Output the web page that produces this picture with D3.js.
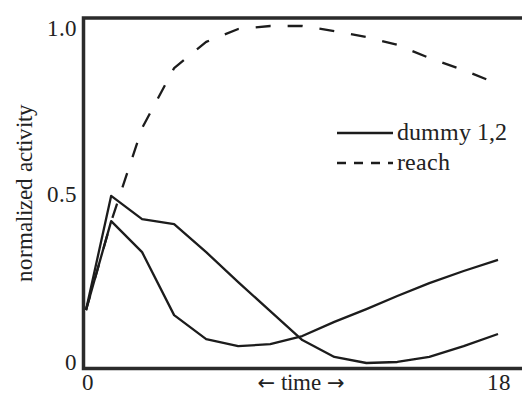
<!DOCTYPE html>
<html>
<head>
<meta charset="utf-8">
<script src="https://cdn.jsdelivr.net/npm/d3@7"></script>
<style>
  @font-face {
    font-family: "ChartSerif";
    src: local("Liberation Serif"), local("LiberationSerif"), local("LiberationSerif-Regular");
  }
  body { margin: 0; background: #fff; }
</style>
</head>
<body>
<div id="graph"></div>
<script>
// sample times
var times = [0, 1.1, 2.45, 3.85, 5.25, 6.65, 8.05, 9.45, 10.85, 12.25, 13.6, 15.0, 16.5, 18];

var dummy1 = [0.157, 0.496, 0.427, 0.412, 0.329, 0.240, 0.154, 0.068, 0.018, 0.0, 0.003, 0.018, 0.05, 0.086];
var dummy2 = [0.157, 0.421, 0.329, 0.142, 0.071, 0.05, 0.056, 0.08, 0.122, 0.16, 0.199, 0.237, 0.273, 0.306];
var reach  = [0.157, 0.42, 0.697, 0.875, 0.953, 0.991, 1.0, 1.0, 0.985, 0.967, 0.944, 0.905, 0.869, 0.828];

var yTicks = [0, 0.5, 1];
var yTickLabels = ["0", "0.5", "1.0"];
var xTicks = [0, 18];

var svg = d3.select("#graph")
  .append("svg")
  .attr("width", 522)
  .attr("height", 394);

var x = d3.scaleLinear().domain([0, 18]).range([86, 498]);
var y = d3.scaleLinear().domain([0, 1]).range([363, 26]);

function serif(sel, size) {
  sel.attr("font-family", "Liberation Serif")
    .style("font-family", "ChartSerif, 'Liberation Serif', serif")
    .attr("font-size", size)
    .attr("fill", "#222");
}

// y tick labels
yTicks.forEach(function(d, i) {
  svg.append("text")
    .call(serif, 23)
    .attr("x", 77)
    .attr("y", y(d) + (i == 2 ? 10 : 7))
    .attr("text-anchor", "end")
    .text(yTickLabels[i]);
});

// x tick labels
xTicks.forEach(function(d) {
  svg.append("text")
    .call(serif, 23)
    .attr("x", x(d) + (d == 0 ? 2 : 1))
    .attr("y", 390)
    .attr("text-anchor", "middle")
    .text(d);
});

var xLabel = svg.append("text")
  .call(serif, 23)
  .attr("x", 301)
  .attr("y", 390)
  .attr("text-anchor", "middle");
xLabel.append("tspan").attr("font-family", "DejaVu Sans").style("font-family", "'DejaVu Sans'").attr("font-size", 21).text("\u2190");
xLabel.append("tspan").text(" time ");
xLabel.append("tspan").attr("font-family", "DejaVu Sans").style("font-family", "'DejaVu Sans'").attr("font-size", 21).text("\u2192");

svg.append("text")
  .call(serif, 23)
  .attr("transform", "translate(32, 193) rotate(-90)")
  .attr("text-anchor", "middle")
  .text("normalized activity");

// legend
var legendItems = [{name: "dummy 1,2", dash: null, y: 133}, {name: "reach", dash: "9,8", y: 163}];

legendItems.forEach(function(item) {
  svg.append("text")
    .call(serif, 24)
    .attr("x", 397)
    .attr("y", item.y + 7)
    .text(item.name);
  svg.append("line")
    .attr("x1", 337).attr("x2", 393)
    .attr("y1", item.y).attr("y2", item.y)
    .attr("stroke", "#1c1c1c")
    .attr("stroke-width", 2.3)
    .attr("stroke-dasharray", item.dash);
});

// frame: left, top and bottom, open to the right
svg.append("path")
  .attr("d", "M522,18 H83.5 V368.5 H522")
  .attr("stroke", "#2b2b2b")
  .attr("stroke-width", 3.5)
  .attr("fill", "none");

// lines
var line = d3.line()
  .x(function(d, i) { return x(times[i]); })
  .y(function(d) { return y(d); });

var series = [
  {values: dummy1, dash: null},
  {values: dummy2, dash: null},
  {values: reach, dash: "15,17"}
];

series.forEach(function(s) {
  svg.append("path")
    .attr("d", line(s.values))
    .attr("fill", "none")
    .attr("stroke", "#1c1c1c")
    .attr("stroke-width", 2.3)
    .attr("stroke-linejoin", "round")
    .attr("stroke-dasharray", s.dash);
});
</script>
</body>
</html>
